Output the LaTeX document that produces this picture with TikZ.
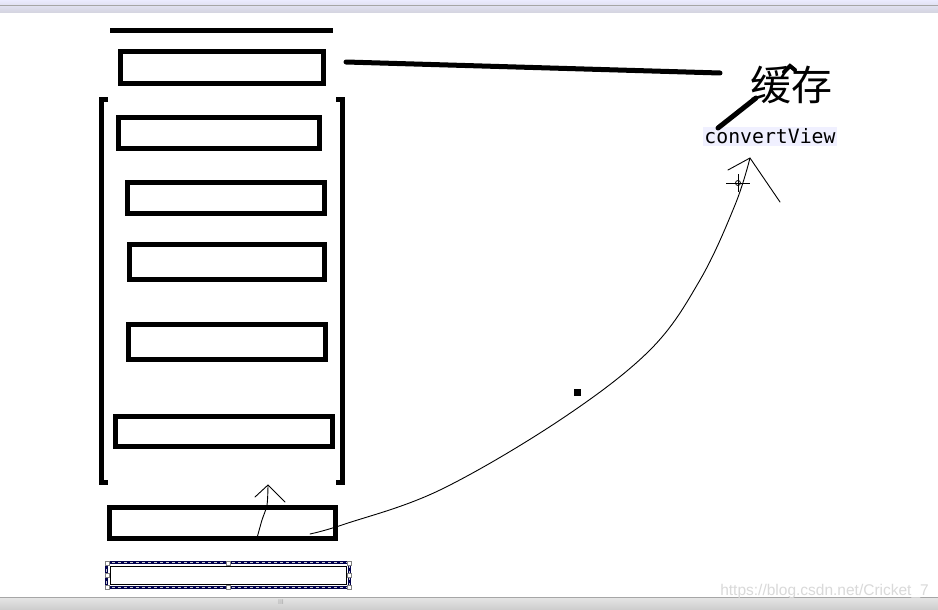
\documentclass[tikz,border=0pt]{standalone}
\usepackage{fontspec}
\newfontfamily\cjk{Noto Sans CJK SC}
\newfontfamily\monof{DejaVu Sans Mono}
\newfontfamily\wmfont{Liberation Sans}
\begin{document}
\begin{tikzpicture}[x=1pt,y=-1pt,
  box/.style={draw=black, line width=5.5pt, fill=white, inner sep=0pt},
  pen/.style={draw=black, line width=1pt, line cap=round, line join=round},
  thick pen/.style={draw=black, line width=5pt, line cap=round},
  handle/.style={draw=gray, fill=white, line width=0.6pt, minimum size=4pt, inner sep=0pt}]
\useasboundingbox (0,0) rectangle (938,610);
\fill[white] (0,0) rectangle (938,610);
% window chrome
\shade[top color=blue!8!white, bottom color=blue!15!gray!30!white] (0,0) rectangle (938,13);
\draw[gray!70, line width=1pt] (0,6) -- (938,6);
\shade[top color=gray!20, bottom color=gray!40] (0,597) rectangle (938,610);
\draw[gray!70, line width=0.8pt] (0,597) -- (938,597);
\node[font=\wmfont\fontsize{7}{7}\selectfont, text=gray!70, inner sep=0] (grip) at (281,602) {III};
\node[font=\wmfont\fontsize{15.5}{15.5}\selectfont, text=gray!30, anchor=east, inner sep=0] (wm) at (929,591) {https://blog.csdn.net/Cricket\_7};

% top line
\draw[line width=5pt] (110,31) -- (333,31);
% boxes
\node[box, minimum width=203pt, minimum height=32pt] (b1) at (222,67.5) {};
\node[box, minimum width=201pt, minimum height=31pt] (b2) at (219,133) {};
\node[box, minimum width=197pt, minimum height=31pt] (b3) at (226,198) {};
\node[box, minimum width=195pt, minimum height=35pt] (b4) at (227,262) {};
\node[box, minimum width=197pt, minimum height=35pt] (b5) at (227,342) {};
\node[box, minimum width=217pt, minimum height=30pt] (b6) at (224,431.5) {};
\node[box, minimum width=226pt, minimum height=31pt] (b7) at (222.5,523) {};
% brackets
\draw[line width=5pt] (108,99.5) -- (101.5,99.5) -- (101.5,482.5) -- (108,482.5);
\draw[line width=5pt] (336,99.5) -- (342.5,99.5) -- (342.5,482.5) -- (336,482.5);
% selected box
\node[draw=black, line width=1pt, minimum width=236pt, minimum height=18pt, inner sep=0] (sel) at (228,575) {};
\draw[draw=blue!30!black, line width=3pt] (106.5,562.5) rectangle (349.5,587.5);
\draw[draw=gray!40, line width=1.4pt, dash pattern=on 3pt off 3pt] (106.5,562.5) rectangle (349.5,587.5);
\foreach \p in {(107,563),(228,563),(349,563),(107,575),(349,575),(107,587),(228,587),(349,587)}
  \node[handle] at \p {};

% text
\node[font=\cjk\fontsize{41}{41}\selectfont, inner sep=0] (cache) at (791,85) {缓存};
\node[font=\monof\fontsize{19.8}{19.8}\selectfont, fill=blue!6, inner sep=1.5pt] (cv) at (770,136.5) {convertView};
% thick lines
\draw[thick pen] (346,62) -- (720,73);
\draw[thick pen] (718,128) -- (756,98);
\draw[line width=4pt, line cap=round] (784,72) -- (790,66) -- (795,70);
% long curved arrow
\draw[pen, line width=0.9pt] plot[smooth, tension=0.6] coordinates {(310,534) (345,524) (440,490) (560,420) (650,350) (700,280) (735,205) (750,158)};
\draw[pen, line width=0.9pt] (728,170) -- (750,158) -- (780,202);
% cursor
\draw[line width=0.8pt] (738,183) circle (2.5pt);
\draw[line width=0.8pt] (726,183) -- (750,183) (738,174) -- (738,192);
% small arrow
\draw[pen, line width=0.9pt] plot[smooth] coordinates {(257,538) (262,520) (267,505) (268,485)};
\draw[pen, line width=0.9pt] (255,497) -- (268,485) -- (285,502);
% dot
\fill (574,389) rectangle (581,396);
\end{tikzpicture}
\end{document}
